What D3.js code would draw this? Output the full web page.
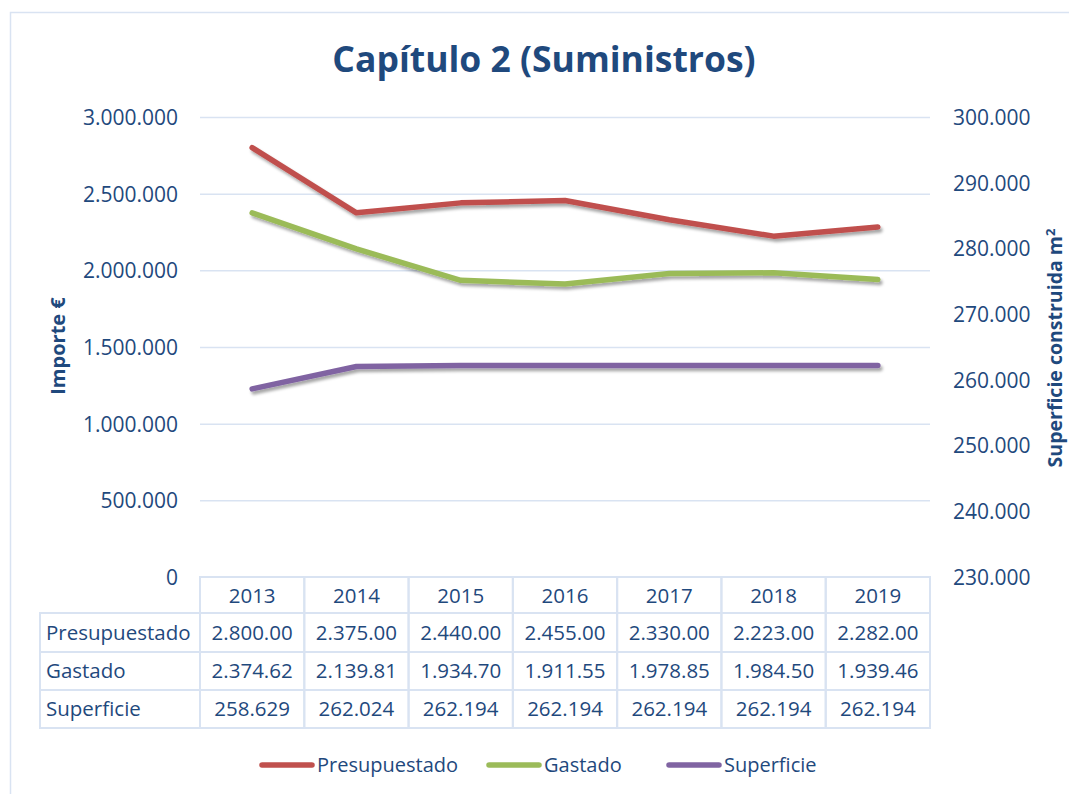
<!DOCTYPE html>
<html>
<head>
<meta charset="utf-8">
<script src="https://cdn.jsdelivr.net/npm/d3@7"></script>
<style>
  html,body{margin:0;padding:0;background:#fff}
  svg{display:block}
</style>
</head>
<body>
<div id="chart"></div>
<script>
// data
var years=['2013','2014','2015','2016','2017','2018','2019'];
var presupuestado=[2800000,2375000,2440000,2455000,2330000,2223000,2282000];
var gastado=[2374620,2139810,1934700,1911550,1978850,1984500,1939460];
var superficie=[258629,262024,262194,262194,262194,262194,262194];
// table cells as shown (clipped in the original)
var presLabels=['2.800.00','2.375.00','2.440.00','2.455.00','2.330.00','2.223.00','2.282.00'];
var gastLabels=['2.374.62','2.139.81','1.934.70','1.911.55','1.978.85','1.984.50','1.939.46'];
var supLabels=['258.629','262.024','262.194','262.194','262.194','262.194','262.194'];
var leftTicks=[0,500000,1000000,1500000,2000000,2500000,3000000];
var rightTicks=[230000,240000,250000,260000,270000,280000,290000,300000];

var W=1069,H=794;
var F='"Open Sans","Noto Sans",sans-serif';
var C={text:'#1f497d',grid:'#d9e3f2',red:'#c0504d',green:'#9bbb59',purple:'#8064a2'};

var svg=d3.select('#chart').append('svg').attr('width',W).attr('height',H);
var defs=svg.append('defs');
var sh=defs.append('filter').attr('id','sh').attr('x','-10%').attr('y','-50%').attr('width','120%').attr('height','200%');
sh.append('feDropShadow').attr('dx',2).attr('dy',3).attr('stdDeviation',1.8).attr('flood-color','#000').attr('flood-opacity',0.35);

// outer frame
svg.append('rect').attr('x',10.5).attr('y',12.5).attr('width',W+20).attr('height',H+20).attr('fill','#fff').attr('stroke',C.grid).attr('stroke-width',1.5);

var x=d3.scaleBand().domain(years).range([200,930]);
var yL=d3.scaleLinear().domain([0,3000000]).range([577,117]);
var yR=d3.scaleLinear().domain([230000,300000]).range([577,117]);
function fmt(v){return d3.format(',')(v).replace(/,/g,'.')}

// title
svg.append('text').attr('x',544).attr('y',72).attr('text-anchor','middle').attr('font-family',F).attr('font-weight',700).attr('font-size',35.5).attr('fill',C.text).text('Capítulo 2 (Suministros)');

// gridlines
svg.append('g').selectAll('line').data(leftTicks.filter(function(d){return d>0})).enter().append('line')
  .attr('x1',200).attr('x2',930).attr('y1',function(d){return yL(d)+0.5}).attr('y2',function(d){return yL(d)+0.5})
  .attr('stroke',C.grid).attr('stroke-width',1.5);

// left axis
var gl=svg.append('g').attr('transform','translate(178,0)').call(d3.axisLeft(yL).tickValues(leftTicks).tickFormat(fmt).tickSize(0).tickPadding(0));
gl.select('.domain').remove();
gl.selectAll('text').attr('font-family',F).attr('font-size',21).attr('fill',C.text).attr('dy','0.35em');

// right axis
var gr=svg.append('g').attr('transform','translate(953,0)').call(d3.axisRight(yR).tickValues(rightTicks).tickFormat(fmt).tickSize(0).tickPadding(0));
gr.select('.domain').remove();
gr.selectAll('text').attr('font-family',F).attr('font-size',21).attr('fill',C.text).attr('dy','0.35em');

// axis titles
svg.append('text').attr('transform','translate(65,346) rotate(-90)').attr('text-anchor','middle').attr('font-family',F).attr('font-weight',700).attr('font-size',20).attr('fill',C.text).text('Importe €');
var rt=svg.append('text').attr('transform','translate(1062,348) rotate(-90)').attr('text-anchor','middle').attr('font-family',F).attr('font-weight',700).attr('font-size',19.5).attr('fill',C.text);
rt.append('tspan').text('Superficie construida m');
rt.append('tspan').attr('dy',-7).attr('font-size',13).text('2');

// lines
function cx(i){return x(years[i])+x.bandwidth()/2}
var series=[
  {vals:presupuestado,y:yL,color:C.red},
  {vals:gastado,y:yL,color:C.green},
  {vals:superficie,y:yR,color:C.purple}
];
series.forEach(function(s){
  var line=d3.line().x(function(d,i){return cx(i)}).y(function(d){return s.y(d)});
  svg.append('path').datum(s.vals).attr('d',line).attr('fill','none').attr('stroke',s.color).attr('stroke-width',5.5)
    .attr('stroke-linecap','round').attr('stroke-linejoin','round').attr('filter','url(#sh)');
});

// data table
var rowY=[577,613,652,690,728];
var tb=svg.append('g');
var rows=[{name:'Presupuestado',cells:presLabels},{name:'Gastado',cells:gastLabels},{name:'Superficie',cells:supLabels}];
// header cells
years.forEach(function(yv){
  tb.append('rect').attr('x',x(yv)).attr('y',rowY[0]).attr('width',x.bandwidth()).attr('height',rowY[1]-rowY[0]).attr('fill','none').attr('stroke',C.grid).attr('stroke-width',2);
  tb.append('text').attr('x',x(yv)+x.bandwidth()/2).attr('y',(rowY[0]+rowY[1])/2+1).attr('dy','0.35em').attr('text-anchor','middle').attr('font-family',F).attr('font-size',20.5).attr('fill',C.text).text(yv);
});
rows.forEach(function(r,ri){
  var y0=rowY[ri+1],y1=rowY[ri+2];
  tb.append('rect').attr('x',40).attr('y',y0).attr('width',160).attr('height',y1-y0).attr('fill','none').attr('stroke',C.grid).attr('stroke-width',2);
  tb.append('text').attr('x',46).attr('y',(y0+y1)/2).attr('dy','0.35em').attr('font-family',F).attr('font-size',20.5).attr('fill',C.text).text(r.name);
  r.cells.forEach(function(t,i){
    tb.append('rect').attr('x',x(years[i])).attr('y',y0).attr('width',x.bandwidth()).attr('height',y1-y0).attr('fill','none').attr('stroke',C.grid).attr('stroke-width',2);
    tb.append('text').attr('x',cx(i)).attr('y',(y0+y1)/2).attr('dy','0.35em').attr('text-anchor','middle').attr('font-family',F).attr('font-size',20.5).attr('fill',C.text).text(t);
  });
});

// legend
var legend=[{name:'Presupuestado',color:C.red,x:262},{name:'Gastado',color:C.green,x:489},{name:'Superficie',color:C.purple,x:669}];
legend.forEach(function(l){
  svg.append('line').attr('x1',l.x).attr('x2',l.x+50).attr('y1',765).attr('y2',765).attr('stroke',l.color).attr('stroke-width',5.5).attr('stroke-linecap','round');
  svg.append('text').attr('x',l.x+55).attr('y',765).attr('dy','0.35em').attr('font-family',F).attr('font-size',20).attr('fill',C.text).text(l.name);
});
</script>
</body>
</html>
